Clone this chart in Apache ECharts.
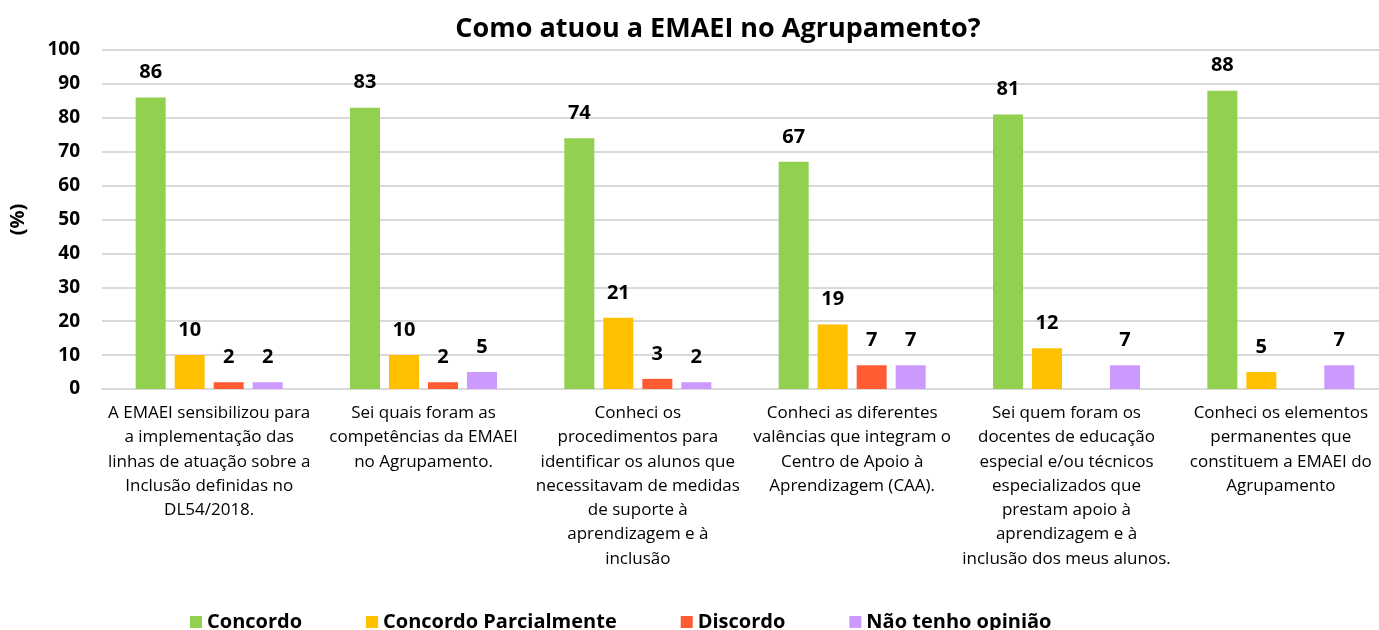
<!DOCTYPE html>
<html>
<head>
<meta charset="utf-8">
<script src="https://cdn.jsdelivr.net/npm/echarts@6/dist/echarts.min.js"></script>
<style>
  html, body { margin: 0; padding: 0; background: #fff; }
  #chart { width: 1379px; height: 630px; }
</style>
</head>
<body>
<div id="chart"></div>
<script>
// categorias (com quebras de linha como no gráfico original)
var categories = [
  'A EMAEI sensibilizou para\na implementação das\nlinhas de atuação sobre a\nInclusão definidas no\nDL54/2018.',
  'Sei quais foram as\ncompetências da EMAEI\nno Agrupamento.',
  'Conheci os\nprocedimentos para\nidentificar os alunos que\nnecessitavam de medidas\nde suporte à\naprendizagem e à\ninclusão',
  'Conheci as diferentes\nvalências que integram o\nCentro de Apoio à\nAprendizagem (CAA).',
  'Sei quem foram os\ndocentes de educação\nespecial e/ou técnicos\nespecializados que\nprestam apoio à\naprendizagem e à\ninclusão dos meus alunos.',
  'Conheci os elementos\npermanentes que\nconstituem a EMAEI do\nAgrupamento'
];
var concordo = [86, 83, 74, 67, 81, 88];
var parcialmente = [10, 10, 21, 19, 12, 5];
var discordo = [2, 2, 3, 7, null, null];
var semOpiniao = [2, 5, 2, 7, 7, 7];

var fontFam = '"Open Sans", "Noto Sans", sans-serif';

var chart = echarts.init(document.getElementById('chart'));

function serie(name, data, color) {
  return {
    name: name,
    type: 'bar',
    data: data,
    barWidth: 30,
    barGap: '30%',
    itemStyle: { color: color },
    label: {
      show: true,
      position: 'top',
      distance: 15,
      fontFamily: fontFam,
      fontWeight: 'bold',
      fontSize: 20,
      color: '#000'
    }
  };
}

var option = {
  backgroundColor: '#fff',
  animation: false,
  title: {
    text: 'Como atuou a EMAEI no Agrupamento?',
    left: 713,
    textAlign: 'center',
    top: 11,
    textStyle: { fontFamily: fontFam, fontWeight: 'bold', fontSize: 27, color: '#000' }
  },
  legend: {
    left: 185,
    top: 607,
    itemWidth: 12,
    itemHeight: 12,
    itemGap: 64,
    icon: 'rect',
    textStyle: { fontFamily: fontFam, fontWeight: 'bold', fontSize: 20, color: '#000' },
    data: ['Concordo', 'Concordo Parcialmente', 'Discordo', 'Não tenho opinião']
  },
  grid: {
    left: 102,
    top: 50,
    width: 1286,
    bottom: 241,
    containLabel: false,
    outerBoundsMode: 'none'
  },
  xAxis: {
    type: 'category',
    data: categories,
    axisTick: { show: false },
    axisLine: { show: true, lineStyle: { color: '#d9d9d9', width: 2 } },
    axisLabel: {
      interval: 0,
      margin: 12,
      fontFamily: fontFam,
      fontSize: 17,
      lineHeight: 24.3,
      color: '#000',
      align: 'center'
    }
  },
  yAxis: {
    type: 'value',
    min: 0,
    max: 100,
    interval: 10,
    name: '(%)',
    nameLocation: 'middle',
    nameGap: 74,
    nameTextStyle: { fontFamily: fontFam, fontWeight: 'bold', fontSize: 20, color: '#000' },
    axisLine: { show: false },
    axisTick: { show: false },
    splitLine: { lineStyle: { color: '#d9d9d9', width: 2 } },
    axisLabel: {
      margin: 22,
      fontFamily: fontFam,
      fontWeight: 'bold',
      fontSize: 19,
      color: '#000'
    }
  },
  series: [
    serie('Concordo', concordo, '#92D050'),
    serie('Concordo Parcialmente', parcialmente, '#FFC000'),
    serie('Discordo', discordo, '#FF5B33'),
    serie('Não tenho opinião', semOpiniao, '#CC99FF')
  ]
};

chart.setOption(option);
</script>
</body>
</html>
